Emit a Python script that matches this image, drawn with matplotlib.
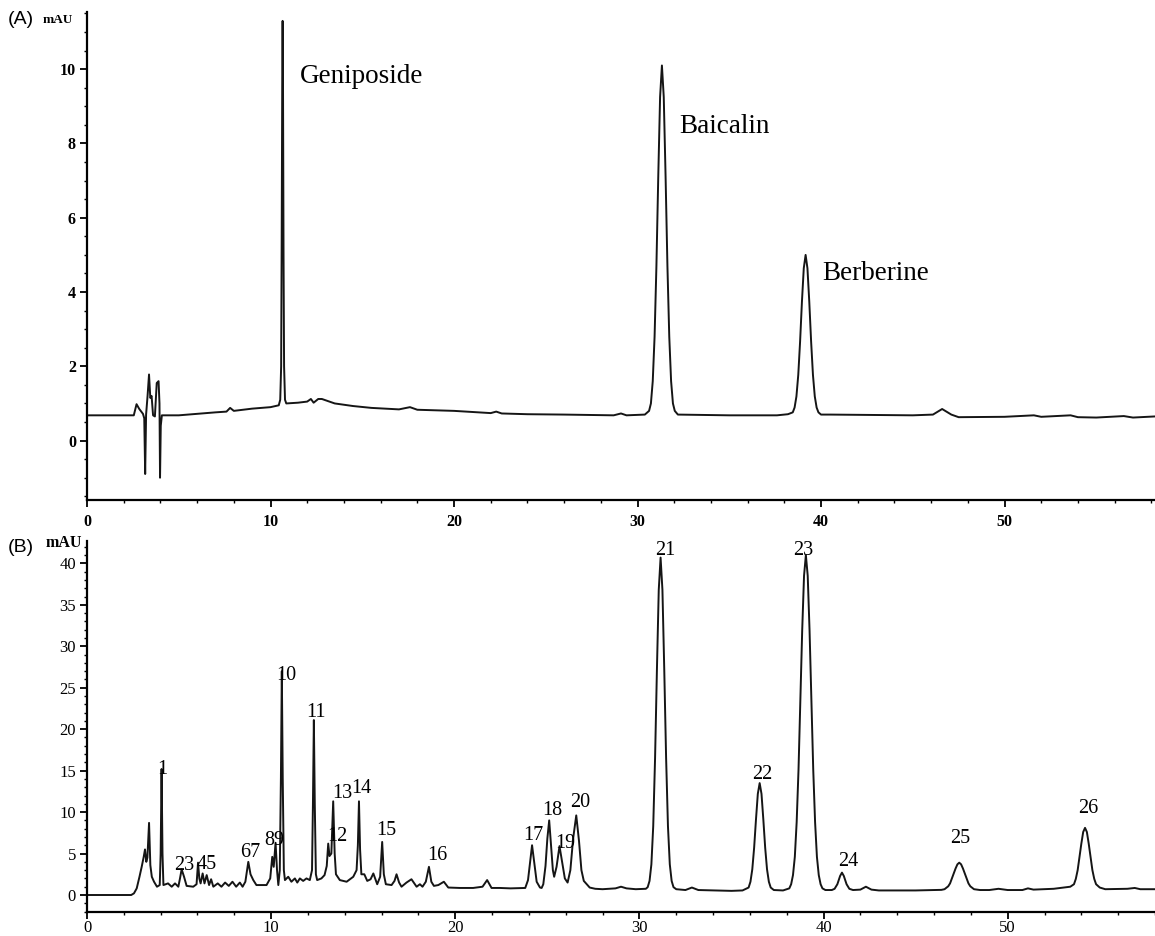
import matplotlib
matplotlib.use("Agg")
import matplotlib.pyplot as plt
from matplotlib.ticker import MultipleLocator

# (A) standard mixture, retention time (min) vs mAU
time_a = [0.0, 2.55, 2.7, 2.85, 3.05, 3.12, 3.17, 3.22, 3.3, 3.38, 3.45, 3.52, 3.6, 3.7,
          3.8, 3.9, 3.95, 3.98, 4.02, 4.08, 5.0, 6.0, 7.0, 7.6, 7.8, 8.0, 9.0, 10.0,
          10.45, 10.53, 10.58, 10.61, 10.64, 10.66, 10.68, 10.71, 10.74, 10.79, 10.86,
          11.5, 12.0, 12.2, 12.35, 12.6, 12.8, 13.5, 14.5, 15.5, 17.0, 17.6, 18.0, 20.0,
          22.0, 22.3, 22.6, 24.0, 26.0, 28.7, 29.1, 29.4, 30.4,
          30.63, 30.73, 30.83, 30.93, 31.03, 31.13, 31.23, 31.33, 31.43, 31.53, 31.63,
          31.73, 31.83, 31.93, 32.03, 32.2, 35.0, 37.6, 38.2,
          38.46, 38.56, 38.66, 38.76, 38.86, 38.96, 39.06, 39.16, 39.26, 39.36, 39.46,
          39.56, 39.66, 39.76, 39.86, 40.0, 40.5, 45.0, 46.1, 46.6, 47.1, 47.5, 50.0,
          51.6, 52.0, 53.6, 54.0, 55.0, 56.5, 57.0, 58.2]
signal_a = [0.68, 0.68, 0.98, 0.85, 0.72, 0.6, -0.9, 0.7, 1.2, 1.78, 1.15, 1.2, 0.68, 0.65,
            1.55, 1.6, 1.0, -1.0, 0.4, 0.68, 0.68, 0.72, 0.76, 0.78, 0.88, 0.8, 0.86, 0.9,
            0.95, 1.1, 2.0, 5.5, 9.8, 11.3, 9.8, 5.0, 2.0, 1.1, 1.0,
            1.02, 1.05, 1.12, 1.02, 1.12, 1.12, 1.0, 0.93, 0.88, 0.84, 0.9, 0.83, 0.8,
            0.74, 0.78, 0.73, 0.71, 0.7, 0.68, 0.73, 0.68, 0.7,
            0.8, 1.0, 1.6, 2.8, 4.7, 7.1, 9.25, 10.1, 9.25, 7.1, 4.7,
            2.8, 1.6, 1.0, 0.8, 0.7, 0.68, 0.68, 0.71,
            0.76, 0.89, 1.19, 1.77, 2.67, 3.74, 4.64, 5.0, 4.64, 3.74, 2.67,
            1.77, 1.19, 0.89, 0.76, 0.7, 0.7, 0.68, 0.7, 0.85, 0.7, 0.63, 0.64,
            0.68, 0.64, 0.68, 0.63, 0.62, 0.66, 0.62, 0.65]

# (B) herbal extract
time_b = [0.0, 2.4, 2.55, 2.7, 2.85, 2.97, 3.08, 3.15, 3.22, 3.28, 3.37, 3.44, 3.52, 3.64,
          3.8, 3.95, 4.0, 4.05, 4.1, 4.15, 4.4, 4.6, 4.78, 4.96, 5.05, 5.14, 5.27, 5.41,
          5.77, 5.95, 6.03, 6.1, 6.17, 6.28, 6.38, 6.5, 6.63, 6.74, 6.86, 7.1, 7.3, 7.5,
          7.7, 7.9, 8.1, 8.3, 8.45, 8.6, 8.76, 8.88, 9.03, 9.2, 9.75, 9.95, 10.06, 10.14,
          10.24, 10.32, 10.39, 10.47, 10.53, 10.58, 10.63, 10.69, 10.75, 10.93, 11.1,
          11.29, 11.42, 11.56, 11.74, 11.92, 12.1, 12.22, 12.27, 12.32, 12.37, 12.43,
          12.5, 12.73, 12.9, 13.02, 13.1, 13.17, 13.27, 13.37, 13.45, 13.52, 13.73,
          14.1, 14.46, 14.64, 14.71, 14.77, 14.83, 14.9, 15.06, 15.22, 15.4, 15.55,
          15.76, 15.92, 16.03, 16.12, 16.23, 16.54, 16.7, 16.81, 16.95, 17.08, 17.35,
          17.62, 17.9, 18.08, 18.22, 18.4, 18.57, 18.7, 18.84, 19.08, 19.38, 19.62,
          20.25, 20.97, 21.48, 21.73, 21.97, 22.42, 23.0, 23.8, 23.95, 24.05, 24.17,
          24.3, 24.42, 24.6, 24.69, 24.78, 24.9, 25.0, 25.1, 25.2, 25.3, 25.37, 25.5,
          25.66, 25.8, 25.95, 26.1, 26.25, 26.4, 26.57, 26.72, 26.85, 26.98, 27.3, 27.6,
          28.0, 28.7, 29.0, 29.3, 29.8, 30.35,
          30.45, 30.55, 30.65, 30.75, 30.85, 30.95, 31.05, 31.15, 31.25, 31.35, 31.45,
          31.55, 31.65, 31.75, 31.85, 32.0, 32.5, 32.85, 33.2, 34.0, 35.0, 35.6,
          35.93, 36.03, 36.13, 36.23, 36.33, 36.43, 36.53, 36.63, 36.73, 36.83, 36.93,
          37.03, 37.13, 37.3, 37.8,
          38.14, 38.24, 38.34, 38.44, 38.54, 38.64, 38.74, 38.84, 38.94, 39.04, 39.14,
          39.24, 39.34, 39.44, 39.54, 39.64, 39.74, 39.84, 39.94, 40.1, 40.45,
          40.6, 40.75, 40.9, 41.0, 41.1, 41.25, 41.4, 41.6, 42.0, 42.3, 42.6, 43.0, 45.0,
          46.4, 46.57, 46.77, 46.87, 46.97, 47.07, 47.17, 47.27, 47.37, 47.47, 47.57,
          47.67, 47.77, 47.87, 47.97, 48.17, 48.5, 49.0, 49.5, 50.0, 50.8, 51.1, 51.4,
          52.5, 53.2, 53.4, 53.6, 53.7, 53.8, 53.9, 54.0, 54.1, 54.2, 54.3, 54.4, 54.5,
          54.6, 54.7, 54.8, 55.0, 55.3, 56.5, 56.9, 57.2, 58.0]
signal_b = [0.0, 0.0, 0.2, 0.8, 2.2, 3.4, 4.6, 5.5, 4.0, 4.5, 8.7, 3.6, 2.2, 1.6,
            1.0, 1.2, 5.0, 15.2, 5.0, 1.2, 1.4, 1.0, 1.4, 1.0, 2.0, 3.1, 2.2, 1.1,
            1.0, 1.3, 3.9, 2.0, 1.4, 2.6, 1.4, 2.4, 1.2, 1.9, 1.0, 1.4, 1.0, 1.5,
            1.1, 1.6, 1.0, 1.5, 1.0, 1.6, 4.0, 2.5, 1.8, 1.2, 1.2, 2.0, 4.6, 3.4,
            6.3, 3.0, 1.2, 3.0, 14.0, 27.0, 14.0, 3.0, 1.8, 2.2, 1.6,
            2.0, 1.5, 2.0, 1.7, 2.0, 1.8, 3.0, 11.0, 21.1, 11.0, 2.5,
            1.8, 2.0, 2.4, 3.5, 6.2, 4.7, 5.0, 11.3, 5.0, 2.5, 1.8,
            1.6, 2.2, 3.0, 6.0, 11.3, 5.5, 2.5, 2.5, 1.7, 1.9, 2.6,
            1.3, 2.2, 6.4, 2.5, 1.3, 1.2, 1.7, 2.5, 1.5, 1.0, 1.5,
            1.9, 1.0, 1.3, 1.0, 1.6, 3.4, 1.6, 1.1, 1.2, 1.6, 0.9,
            0.85, 0.85, 1.0, 1.8, 0.85, 0.85, 0.8, 0.85, 1.8, 3.7, 6.0,
            3.7, 1.6, 0.9, 0.85, 1.3, 3.5, 6.8, 9.0, 6.0, 3.0, 2.2, 3.4,
            5.9, 4.0, 2.0, 1.5, 3.0, 6.8, 9.6, 6.5, 3.0, 1.7, 0.9, 0.75,
            0.7, 0.8, 1.0, 0.8, 0.7, 0.75,
            0.95, 1.7, 3.7, 8.3, 16.5, 27.1, 36.8, 40.7, 36.8, 27.1, 16.5,
            8.3, 3.7, 1.7, 0.95, 0.7, 0.6, 0.9, 0.6, 0.55, 0.5, 0.55,
            0.9, 1.6, 3.1, 5.7, 9.1, 12.2, 13.5, 12.2, 9.1, 5.7, 3.1,
            1.6, 0.9, 0.6, 0.55,
            0.8, 1.3, 2.4, 4.6, 8.8, 15.1, 23.3, 31.9, 38.5, 41.0, 38.5,
            31.9, 23.3, 15.1, 8.8, 4.6, 2.4, 1.3, 0.8, 0.6, 0.6,
            0.75, 1.3, 2.3, 2.7, 2.3, 1.3, 0.75, 0.6, 0.65, 1.0, 0.65, 0.55, 0.55,
            0.62, 0.7, 1.05, 1.4, 2.0, 2.6, 3.2, 3.7, 3.9, 3.7, 3.2,
            2.6, 2.0, 1.4, 1.05, 0.7, 0.6, 0.6, 0.75, 0.6, 0.6, 0.8, 0.65,
            0.75, 0.95, 1.0, 1.3, 1.95, 3.0, 4.6, 6.2, 7.6, 8.1, 7.6, 6.2, 4.6,
            3.0, 1.95, 1.3, 0.9, 0.7, 0.75, 0.85, 0.7, 0.7]

# compound names in (A) and where they sit
names_a = ["Geniposide", "Baicalin", "Berberine"]
name_x = [11.6, 32.28, 40.09]
name_y = [9.63, 8.28, 4.33]

# numbered peaks in (B)
peak_ids = ["1", "23", "45", "67", "89", "10", "11", "12", "13", "14", "15", "16", "17",
            "18", "19", "20", "21", "22", "23", "24", "25", "26"]
peak_x = [4.09, 5.27, 6.5, 8.89, 10.15, 10.8, 12.43, 13.6, 13.87, 14.91, 16.27, 19.0,
          24.23, 25.25, 25.99, 26.76, 31.43, 36.65, 38.92, 41.33, 47.42, 54.4]
peak_y = [15.1, 3.5, 3.7, 5.1, 6.6, 26.5, 22.0, 7.0, 12.3, 12.9, 7.8, 4.8,
          7.2, 10.25, 6.2, 11.1, 41.6, 14.5, 41.6, 4.0, 6.8, 10.4]

W, H = 1155, 936
fig = plt.figure(figsize=(W / 100, H / 100), dpi=100)
serif = "Liberation Serif"
sans = "Liberation Sans"


def style_axis(ax, ymajor, yminor, lab_size, lab_weight, xpad):
    for s in ["top", "right"]:
        ax.spines[s].set_visible(False)
    for s in ["left", "bottom"]:
        ax.spines[s].set_linewidth(1.6)
    ax.xaxis.set_major_locator(MultipleLocator(10))
    ax.xaxis.set_minor_locator(MultipleLocator(2))
    ax.yaxis.set_major_locator(MultipleLocator(ymajor))
    ax.yaxis.set_minor_locator(MultipleLocator(yminor))
    ax.tick_params(which="major", direction="out", length=5, width=1.3, pad=3)
    ax.tick_params(which="minor", direction="out", length=2.5, width=1.0)
    ax.tick_params(axis="x", which="major", length=5, pad=xpad)
    for lab in ax.get_xticklabels() + ax.get_yticklabels():
        lab.set_fontfamily(serif)
        lab.set_fontsize(lab_size)
        lab.set_fontweight(lab_weight)


# panel A
ax_a = fig.add_axes([87 / W, 1 - 500 / H, 1 - 87 / W, (500 - 12) / H])
ax_a.plot(time_a, signal_a, color="#151515", lw=1.4)
ax_a.set_xlim(0, 58.2)
ax_a.set_ylim(-1.6, 11.54)
style_axis(ax_a, 2, 0.5, 11.5, "bold", 5)
for name, x, y in zip(names_a, name_x, name_y):
    ax_a.text(x, y, name, fontfamily=serif, fontsize=19.5, ha="left", va="baseline")

# panel B
ax_b = fig.add_axes([87 / W, 1 - 912 / H, 1 - 87 / W, (912 - 541) / H])
ax_b.plot(time_b, signal_b, color="#151515", lw=1.4)
ax_b.set_xlim(0, 58.0)
ax_b.set_ylim(-2.05, 42.7)
style_axis(ax_b, 5, 1, 12, "normal", 1)
for pid, x, y in zip(peak_ids, peak_x, peak_y):
    ax_b.text(x, y, pid, fontfamily=serif, fontsize=14.5, ha="center", va="center")

# panel letters and unit labels
fig.text(8 / W, 1 - 20 / H, "(A)", fontfamily=sans, fontsize=14, va="center", ha="left")
fig.text(8 / W, 1 - 548 / H, "(B)", fontfamily=sans, fontsize=14, va="center", ha="left")
fig.text(58 / W, 1 - 20 / H, "mAU", fontfamily=serif, fontsize=9.5, fontweight="bold",
         va="center", ha="center")
fig.text(64 / W, 1 - 543 / H, "mAU", fontfamily=serif, fontsize=11.5, fontweight="bold",
         va="center", ha="center")

fig.savefig("out.png", dpi=100)
